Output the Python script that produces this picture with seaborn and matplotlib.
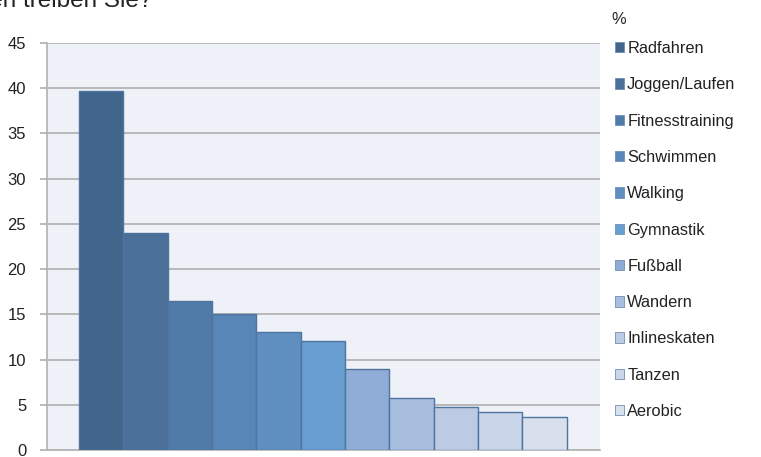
import numpy as np
import matplotlib
matplotlib.use('Agg')
import matplotlib.pyplot as plt
import seaborn as sns
import pandas as pd

sports = ['Radfahren', 'Joggen/Laufen', 'Fitnesstraining', 'Schwimmen', 'Walking',
          'Gymnastik', 'Fußball', 'Wandern', 'Inlineskaten', 'Tanzen', 'Aerobic']
percent = [39.7, 24.0, 16.5, 15.0, 13.0, 12.1, 9.0, 5.7, 4.8, 4.2, 3.6]
colors = ['#41658b', '#4a6f98', '#507aa7', '#5886b6', '#5f8fc1', '#689dcf',
          '#8eacd6', '#a8bedf', '#bccbe3', '#c9d5e8', '#d8e0ee']
y_ticks = [0, 5, 10, 15, 20, 25, 30, 35, 40, 45]


def main():
    sns.set_theme(style='white')
    plt.rcParams['font.family'] = ['Liberation Sans', 'DejaVu Sans']

    df = pd.DataFrame({'sport': sports, 'percent': percent})

    fig = plt.figure(figsize=(7.61, 4.57), dpi=100)
    ax = fig.add_axes([0.0618, 0.0153, 0.7262, 0.8907])
    ax.set_facecolor('#eef1f7')

    sns.barplot(data=df, x='sport', y='percent', hue='sport', palette=colors,
                saturation=1, width=1.0, dodge=False, edgecolor='#4f74a0',
                linewidth=1.0, legend=False, ax=ax, zorder=3)

    ax.set_ylim(0, 45)
    ax.set_xlim(-1.22, 11.24)
    ax.set_yticks(y_ticks)
    ax.set_xticks([])
    ax.yaxis.grid(True, color='#b4b4b4', linewidth=1.3, zorder=0)
    ax.set_axisbelow(True)
    ax.set_xlabel(None)
    ax.set_ylabel(None)
    ax.tick_params(axis='y', labelsize=12, labelcolor='#222222', color='#b4b4b4',
                   length=5, width=1.3, pad=10, left=True)
    for side in ['top', 'right']:
        ax.spines[side].set_visible(False)
    ax.spines['left'].set_color('#b4b4b4')
    ax.spines['bottom'].set_color('#b4b4b4')

    handles = [plt.Rectangle((0, 0), 1, 1, facecolor=c, edgecolor='#6f8fb5', linewidth=0.6)
               for c in colors]
    leg = fig.legend(handles, sports, loc='upper left',
                     bbox_to_anchor=(0.808, 1 - 41 / 457), frameon=False,
                     fontsize=11.8, handlelength=0.55,
                     handleheight=0.6, handletextpad=0.2, labelspacing=1.3,
                     borderpad=0, borderaxespad=0)
    for t in leg.get_texts():
        t.set_color('#222222')
    fig.text(611 / 761, 1 - 20 / 457, '%', ha='left', va='center',
             fontsize=11.8, color='#222222')

    fig.text(152 / 761, 1 - 1 / 457, 'Welche Sportarten treiben Sie?', ha='right',
             va='center', fontsize=17.5, color='#222222')

    fig.savefig('out.png', dpi=100)


if __name__ == '__main__':
    main()
